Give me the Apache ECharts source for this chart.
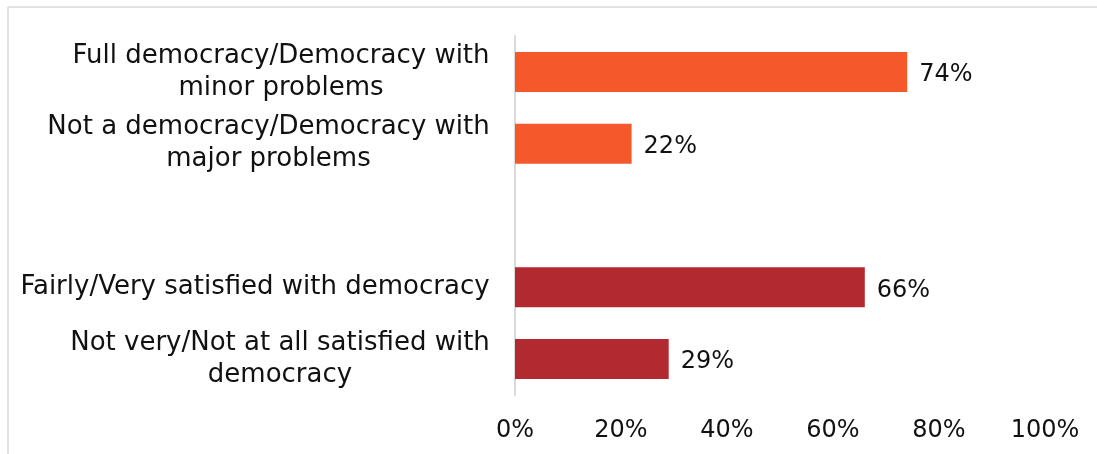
<!DOCTYPE html>
<html>
<head>
<meta charset="utf-8">
<script src="https://cdn.jsdelivr.net/npm/echarts@6/dist/echarts.min.js"></script>
<style>
  html, body { margin: 0; padding: 0; background: #fff; }
  #chart { width: 1097px; height: 454px; }
</style>
</head>
<body>
<div id="chart"></div>
<script>
// Survey answers, top to bottom; the empty entry separates the two question groups
const categories = [
  'Full democracy/Democracy with\nminor problems',
  'Not a democracy/Democracy with\nmajor problems',
  '',
  'Fairly/Very satisfied with democracy',
  'Not very/Not at all satisfied with\ndemocracy'
];
const shares = [74, 22, null, 66, 29];
const groupOf = [0, 0, null, 1, 1];
const groupColors = ['#F4582B', '#B32930'];
const xTicks = [0, 20, 40, 60, 80, 100];

const FONT = '"DejaVu Sans", sans-serif';
const FONT_SIZE = 24;
const CAT_FONT_SIZE = 26;
const TEXT_COLOR = '#111';

// Measure the widest line of each label so its lines can be centred within a right-aligned block
const ctx = document.createElement('canvas').getContext('2d');
ctx.font = CAT_FONT_SIZE + 'px ' + FONT;
const rich = {};
categories.forEach((c, i) => {
  const w = Math.max(...c.split('\n').map(l => ctx.measureText(l).width), 1);
  rich['l' + i] = { width: Math.ceil(w), align: 'center', fontSize: CAT_FONT_SIZE, fontFamily: FONT, color: TEXT_COLOR, lineHeight: 32 };
});

const chart = echarts.init(document.getElementById('chart'), null, { renderer: 'canvas' });
chart.setOption({
  animation: false,
  backgroundColor: '#fff',
  textStyle: { fontFamily: FONT },
  graphic: [
    { type: 'line', shape: { x1: 8, y1: 7, x2: 1097, y2: 7 }, style: { stroke: '#e2e2e2', lineWidth: 2 } },
    { type: 'line', shape: { x1: 8, y1: 7, x2: 8, y2: 454 }, style: { stroke: '#e2e2e2', lineWidth: 2 } }
  ],
  grid: { left: 515, right: 52, top: 36, bottom: 59 },
  xAxis: {
    type: 'value',
    min: xTicks[0],
    max: xTicks[xTicks.length - 1],
    interval: xTicks[1] - xTicks[0],
    axisLine: { show: false },
    axisTick: { show: false },
    splitLine: { show: false },
    axisLabel: { formatter: '{value}%', fontSize: FONT_SIZE, color: TEXT_COLOR, margin: 24 }
  },
  yAxis: {
    type: 'category',
    inverse: true,
    data: categories,
    axisLine: { show: true, lineStyle: { color: '#dadada', width: 2 } },
    axisTick: { show: false },
    axisLabel: {
      margin: 25,
      align: 'right',
      formatter: (value, idx) => value.split('\n').map(l => '{l' + idx + '|' + l + '}').join('\n'),
      rich: rich
    }
  },
  series: [{
    type: 'bar',
    barWidth: 40,
    data: shares.map((v, i) => v === null ? '-' : { value: v, itemStyle: { color: groupColors[groupOf[i]] } }),
    label: {
      show: true,
      position: 'right',
      distance: 12,
      offset: [0, 3],
      formatter: '{c}%',
      fontSize: FONT_SIZE,
      color: TEXT_COLOR
    }
  }]
});
</script>
</body>
</html>
